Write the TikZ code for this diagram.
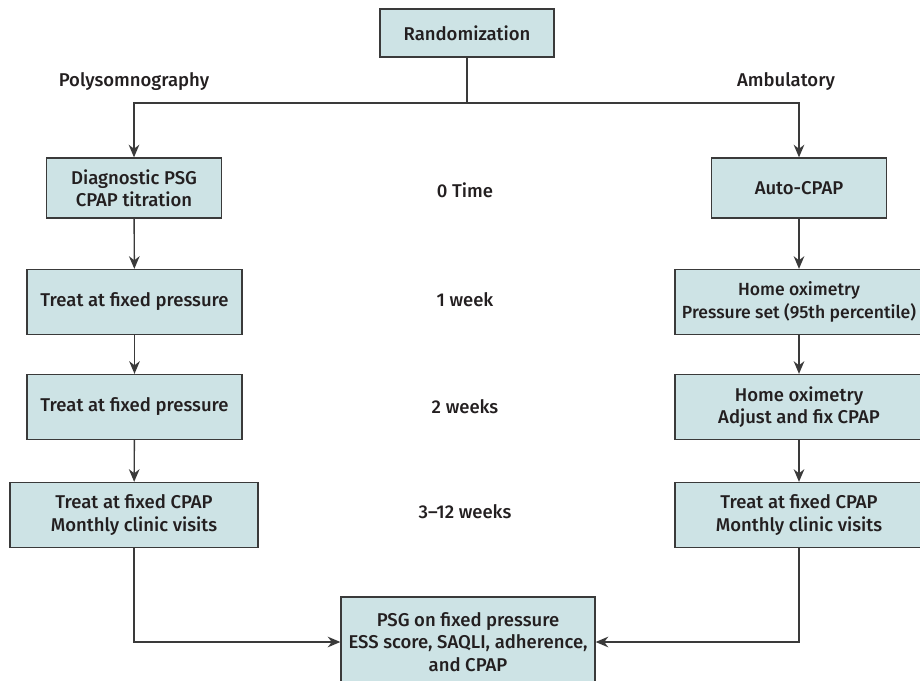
\documentclass[tikz,border=0pt]{standalone}
\usepackage{fontspec}
\setmainfont{Fira Sans}[UprightFont={* Medium}, BoldFont={* SemiBold}]
\usetikzlibrary{arrows.meta}

\definecolor{boxfill}{HTML}{CDE3E5}
\definecolor{linegray}{HTML}{3A3A3A}
\definecolor{textgray}{HTML}{231F20}

\begin{document}
\begin{tikzpicture}[
  x=0.03cm, y=-0.03cm,
  > = {Stealth[length=3.8mm, width=3.2mm]},
  font=\fontsize{15.8}{19}\selectfont,
  text=textgray,
  stage/.style={draw=linegray, line width=1.1pt, fill=boxfill,
                inner sep=2pt, align=center},
  small/.style={stage, minimum width=5.25cm, minimum height=1.8cm},
  narrow/.style={stage, minimum width=6.45cm, minimum height=1.95cm},
  wide/.style={stage, minimum width=7.44cm, minimum height=1.95cm},
  tag/.style={anchor=base},
  arr/.style={->, draw=linegray, line width=1.2pt},
  ln/.style={draw=linegray, line width=1.2pt}
]
  \useasboundingbox (0,0) rectangle (920,681);

  \node[stage, minimum width=5.22cm, minimum height=1.44cm]
    (rand) at (467,33) {Randomization};
  \coordinate (split) at (467,103);

  \node[tag] (psgarm) at (134,87) {Polysomnography};
  \node[tag] (ambarm) at (786,87) {Ambulatory};

  % polysomnography arm
  \node[small]  (diag) at (134,188)   {Diagnostic PSG\\CPAP titration};
  \node[narrow] (lp1)  at (134.5,302) {Treat at fixed pressure};
  \node[narrow] (lp2)  at (134.5,407) {Treat at fixed pressure};
  \node[wide]   (lc)   at (134,515)   {Treat at fixed CPAP\\Monthly clinic visits};

  % ambulatory arm
  \node[small] (auto) at (799,188) {Auto-CPAP};
  \node[wide, font=\fontsize{15}{19}\selectfont]
    (ro1) at (799,302) {Home oximetry\\Pressure set (95th percentile)};
  \node[wide]  (ro2)  at (799,407) {Home oximetry\\Adjust and fix CPAP};
  \node[wide]  (rc)   at (799,515) {Treat at fixed CPAP\\Monthly clinic visits};

  % time points
  \node[tag] (t0) at (465,198) {0 Time};
  \node[tag] (t1) at (465,307) {1 week};
  \node[tag] (t2) at (465,413) {2 weeks};
  \node[tag] (t3) at (465,518) {3--12 weeks};

  \node[stage, minimum width=7.62cm, minimum height=2.7cm]
    (final) at (468,642) {PSG on fixed pressure\\ESS score, SAQLI, adherence,\\and CPAP};

  \draw[ln]  (rand) -- (split);
  \draw[arr] (split) -| (diag);
  \draw[arr] (split) -| (auto);

  \draw[arr] (diag) -- (lp1);
  \draw[arr] (lp1)  -- (lp2);
  \draw[arr] (lp2)  -- (lc);
  \draw[arr] (auto) -- (ro1);
  \draw[arr] (ro1)  -- (ro2);
  \draw[arr] (ro2)  -- (rc);

  \draw[arr] (lc) |- (final);
  \draw[arr] (rc) |- (final);
\end{tikzpicture}
\end{document}
